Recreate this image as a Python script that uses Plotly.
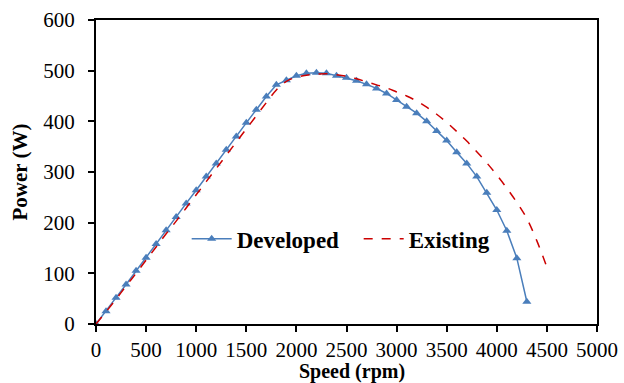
import plotly.graph_objects as go

dev_speed = list(range(0, 4301, 100))
dev_power = [0, 25, 52, 78, 105, 131, 158, 185, 211, 238, 264, 291, 317, 344, 370, 397,
             423, 449, 472, 481, 490, 495, 496, 495, 490, 486, 480, 473, 465, 455, 442,
             429, 416, 400, 381, 362, 339, 317, 291, 259, 225, 184, 130, 44]

ex_speed = list(range(0, 4501, 100))
ex_power = [0, 24, 49, 75, 100, 126, 152, 178, 203, 229, 255, 281, 307, 333, 359, 385,
            411, 437, 462, 479, 487, 491, 493, 494, 492, 489, 484, 478, 472, 466, 458,
            450, 440, 428, 414, 398, 380, 361, 340, 318, 294, 268, 240, 208, 164, 112]

FONT = "Liberation Serif"

fig = go.Figure()
fig.add_trace(go.Scatter(
    x=dev_speed, y=dev_power, name="<b>Developed</b>", mode="lines+markers",
    line=dict(color="#4A7EBB", width=1.5),
    marker=dict(symbol="triangle-up", size=8, color="#4A7EBB"),
))
fig.add_trace(go.Scatter(
    x=ex_speed, y=ex_power, name="<b>Existing</b>", mode="lines",
    line=dict(color="#CC0000", width=1.5, dash="dash", shape="spline"),
))

axis_common = dict(
    showline=True, linecolor="black", linewidth=2, mirror=True,
    ticks="outside", ticklen=6, tickwidth=1.5, tickcolor="black",
    showgrid=False, zeroline=False, automargin=False,
    tickfont=dict(family=FONT, size=21, color="black"),
)

fig.update_layout(
    width=624, height=383,
    margin=dict(l=96, r=27, t=20, b=59),
    paper_bgcolor="white", plot_bgcolor="white",
    xaxis=dict(range=[0, 5000], dtick=500, ticklabelstandoff=0, **axis_common),
    yaxis=dict(range=[0, 600], dtick=100, ticklabelstandoff=9,
               title=dict(text="<b>Power (W)</b>", standoff=10,
                          font=dict(family=FONT, size=21, color="black")),
               **axis_common),
    legend=dict(orientation="h", x=0.181, y=0.28, xanchor="left", yanchor="middle",
                font=dict(family=FONT, size=23, color="black"),
                bgcolor="rgba(0,0,0,0)", itemwidth=40,
                entrywidth=117, entrywidthmode="pixels"),
    showlegend=True,
)
fig.add_annotation(
    text="<b>Speed (rpm)</b>", xref="paper", yref="paper", x=0.51, y=-0.112,
    xanchor="center", yanchor="top", showarrow=False,
    font=dict(family=FONT, size=20, color="black"),
)

fig.write_html("out.html")
